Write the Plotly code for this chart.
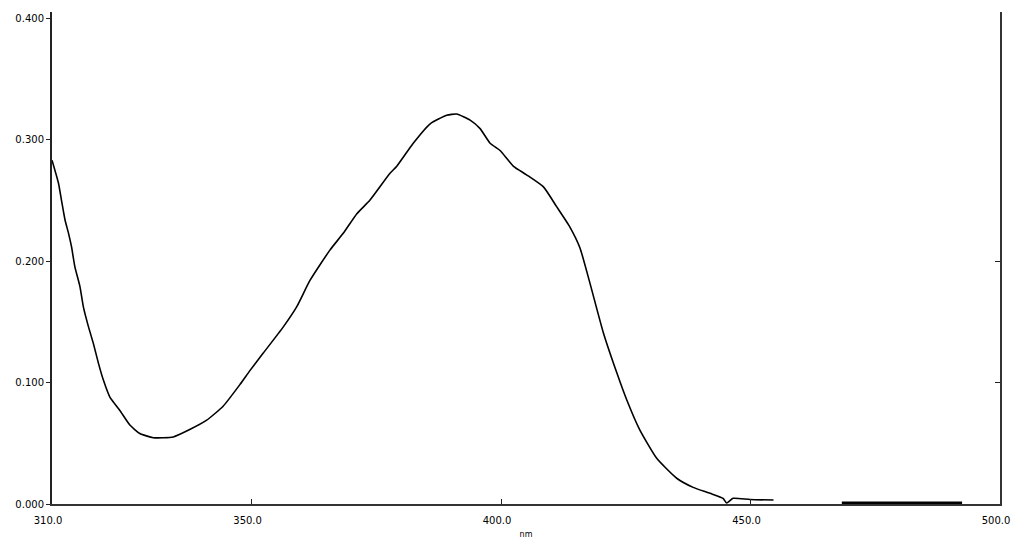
import plotly.graph_objects as go

# Spectrum data (wavelength in nm, absorbance)
wavelength_nm = [310.0, 311.3, 311.9, 312.6, 313.3, 313.9, 314.6, 315.6, 316.3, 317.3,
                 318.3, 319.3, 320.3, 321.6, 323.6, 325.6, 327.6, 330.3, 334.3, 337.7,
                 341.0, 344.3, 347.7, 349.7, 352.3, 356.4, 359.0, 361.7, 365.7, 368.4,
                 371.1, 373.7, 377.7, 379.1, 382.4, 385.8, 389.1, 391.1, 393.8, 395.8,
                 397.8, 399.8, 402.5, 405.1, 408.5, 411.1, 413.8, 415.8, 417.8, 420.5,
                 423.2, 425.2, 427.8, 431.2, 435.2, 438.5, 441.9, 444.5, 445.2, 446.5,
                 449.9, 454.6]
absorbance = [0.283, 0.264, 0.250, 0.234, 0.223, 0.212, 0.195, 0.179, 0.162, 0.146,
              0.132, 0.116, 0.102, 0.088, 0.077, 0.065, 0.058, 0.0546, 0.0552, 0.0615,
              0.069, 0.0805, 0.0985, 0.110, 0.124, 0.146, 0.162, 0.184, 0.209, 0.223,
              0.239, 0.250, 0.272, 0.278, 0.297, 0.313, 0.320, 0.321, 0.316, 0.309,
              0.297, 0.291, 0.278, 0.271, 0.261, 0.245, 0.228, 0.211, 0.182, 0.141,
              0.108, 0.0856, 0.061, 0.0376, 0.0212, 0.0137, 0.0088, 0.0047, 0.0008, 0.0047,
              0.0037, 0.0033]

# Flat near-zero tail segment
tail_nm = [468.3, 492.4]
tail_abs = [0.0008, 0.0008]

x_ticks = [310, 350, 400, 450, 500]
x_tick_labels = ["310.0", "350.0", "400.0", "450.0", "500.0"]
y_ticks = [0.0, 0.1, 0.2, 0.3, 0.4]
y_tick_labels = ["0.000", "0.100", "0.200", "0.300", "0.400"]

Y_RANGE = [0, 0.405]
X_RANGE = [310, 500]

fig = go.Figure()
fig.add_trace(go.Scatter(x=wavelength_nm, y=absorbance, mode="lines",
                         line=dict(color="black", width=1.6, shape="spline", smoothing=0.5),
                         showlegend=False))
fig.add_trace(go.Scatter(x=tail_nm, y=tail_abs, mode="lines", yaxis="y2",
                         line=dict(color="black", width=3), showlegend=False))

axis_font = dict(family="DejaVu Sans", size=10, color="black")

fig.update_layout(
    width=1011, height=536,
    margin=dict(l=44, r=19, t=4, b=40, autoexpand=False),
    paper_bgcolor="white", plot_bgcolor="white",
    xaxis=dict(range=X_RANGE, tickvals=x_ticks, ticktext=x_tick_labels,
               ticks="inside", ticklen=5, tickcolor="#222", tickwidth=1,
               showline=True, linecolor="#333", linewidth=2, showgrid=False,
               zeroline=False, tickfont=axis_font, ticklabelstandoff=6,
               ticklabelshift=-4, ticklabeloverflow="allow", automargin=False,
               title=dict(text="nm", font=dict(family="DejaVu Sans", size=8, color="black"),
                          standoff=6)),
    yaxis=dict(range=Y_RANGE, tickvals=y_ticks, ticktext=y_tick_labels,
               ticks="outside", ticklen=4, tickcolor="#222", tickwidth=1,
               showline=True, linecolor="#222", linewidth=2, showgrid=False,
               zeroline=False, tickfont=axis_font, automargin=False),
    yaxis2=dict(range=Y_RANGE, overlaying="y", side="right", tickvals=[0.1, 0.2],
                ticks="inside", ticklen=5, tickcolor="#222", showticklabels=False,
                showline=True, linecolor="#333", linewidth=2, showgrid=False,
                zeroline=False, automargin=False),
)

fig.write_html("out.html")
